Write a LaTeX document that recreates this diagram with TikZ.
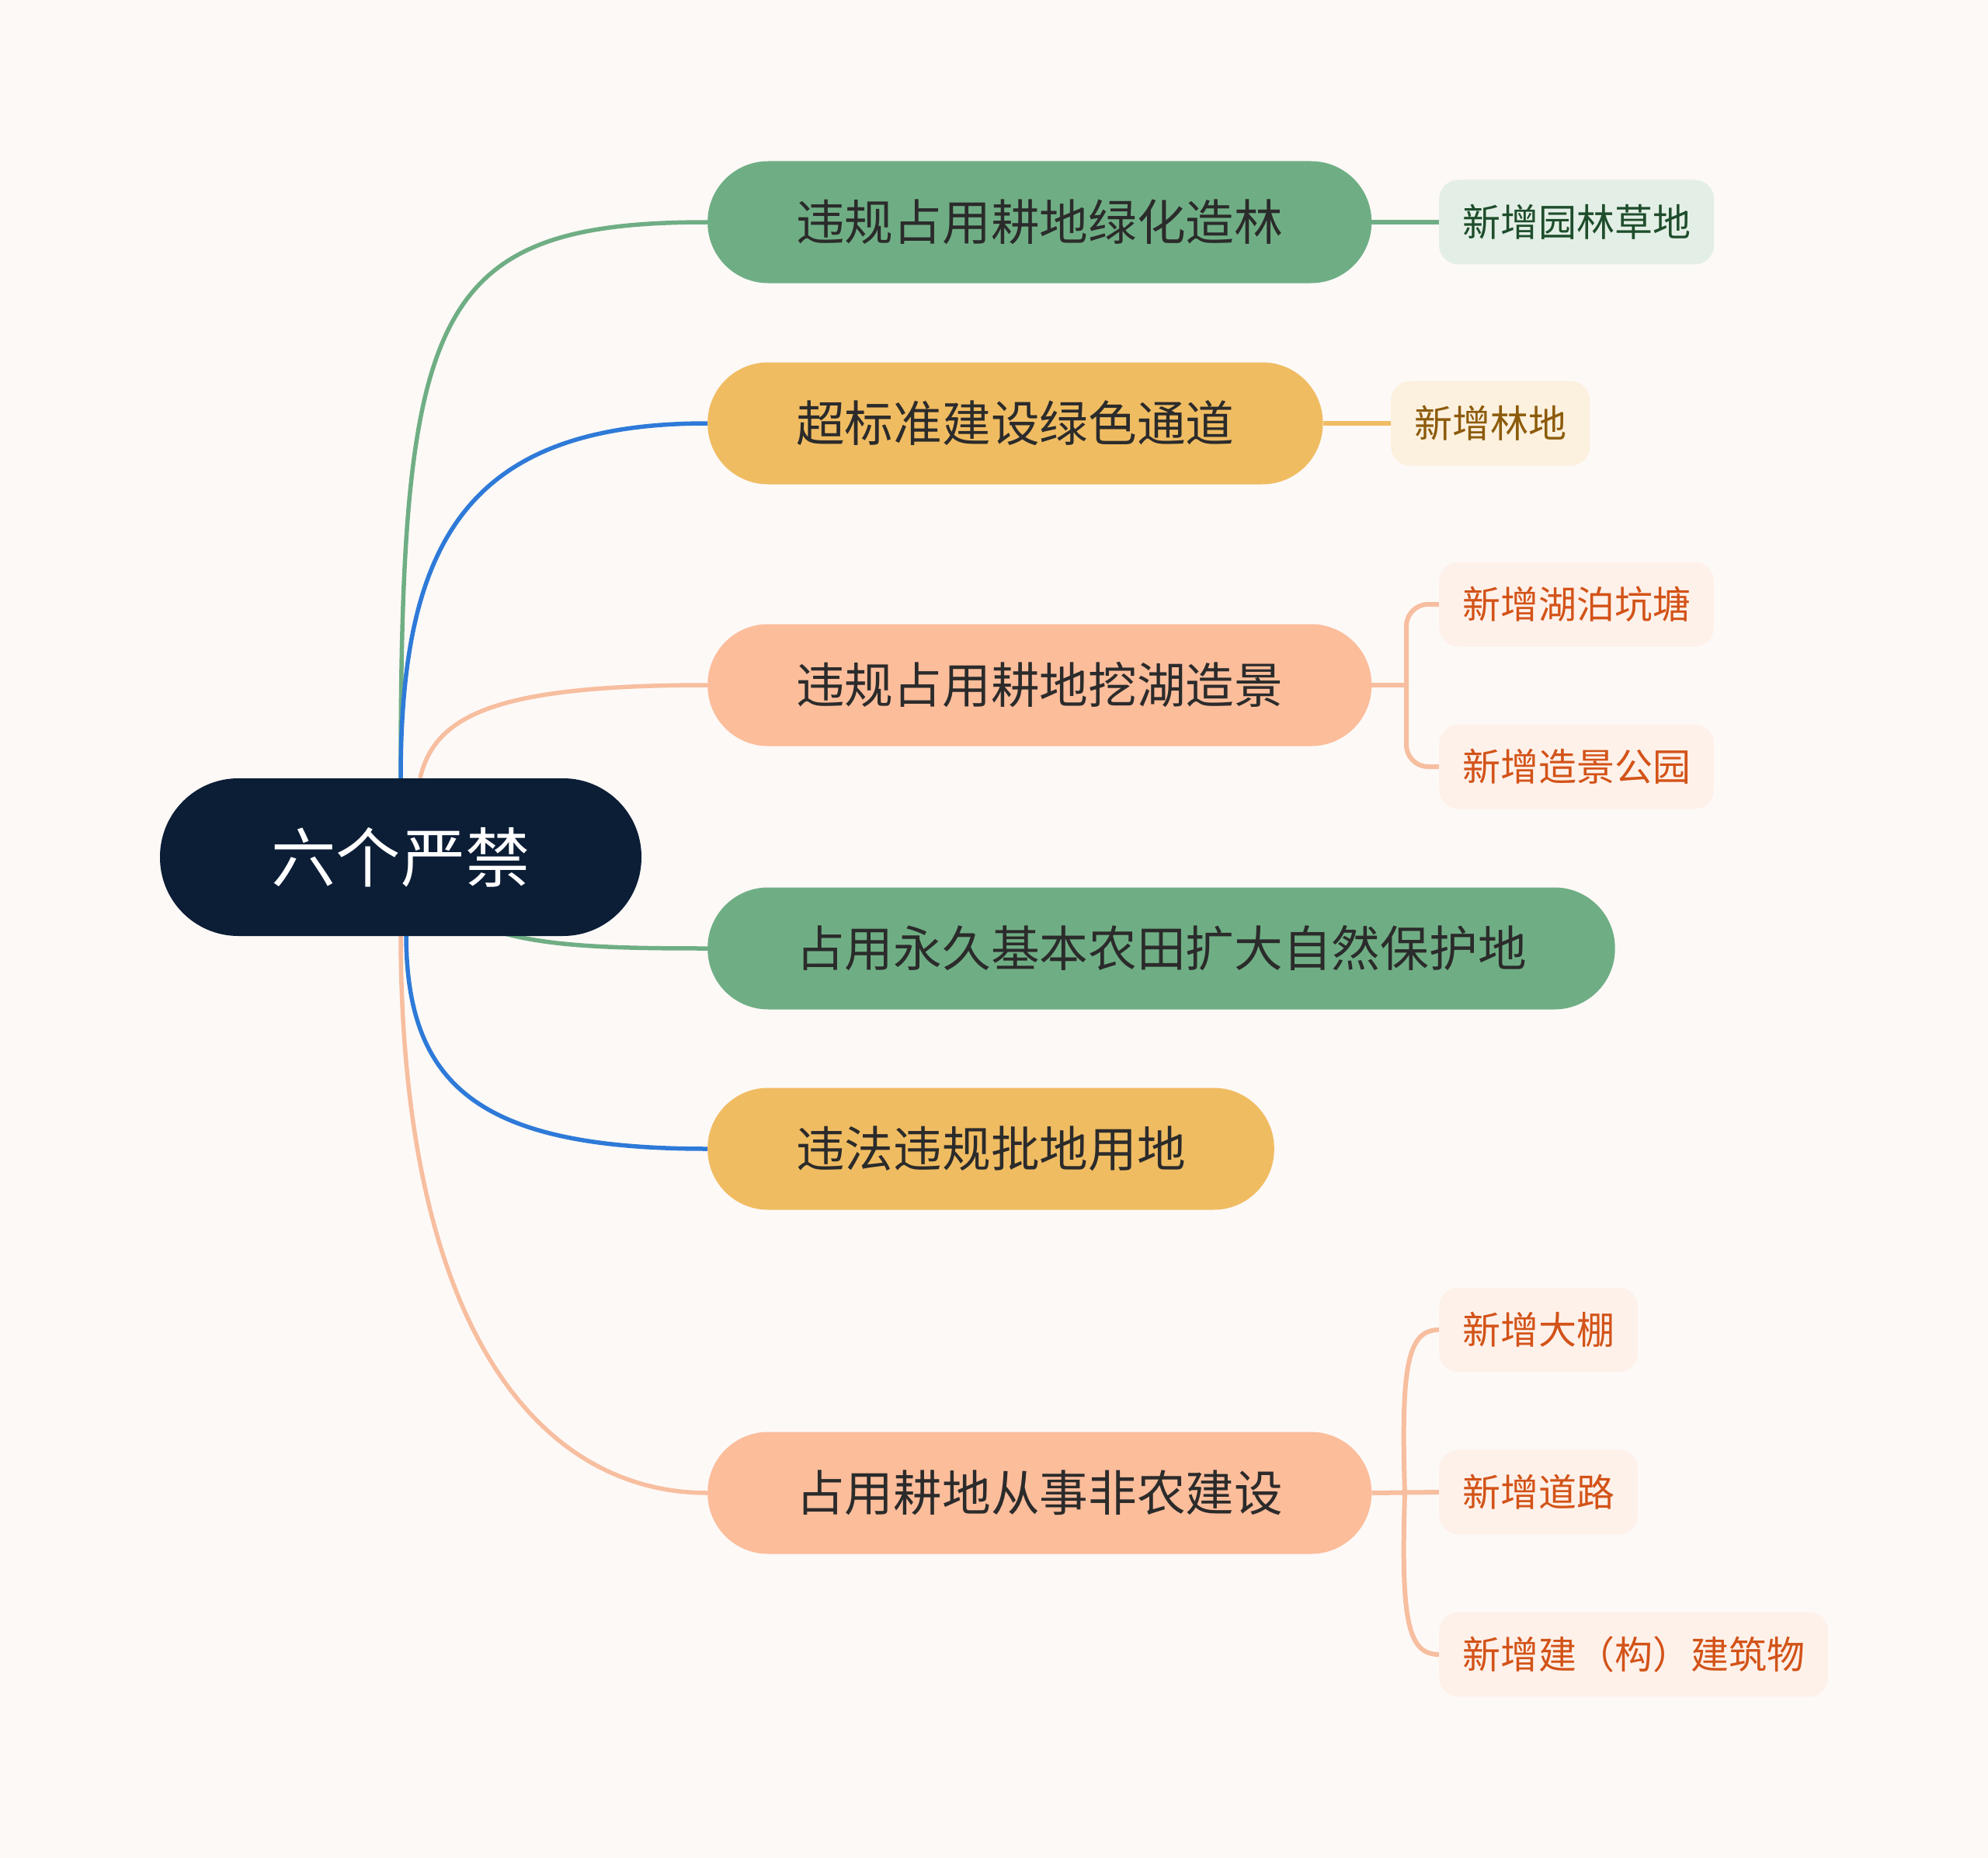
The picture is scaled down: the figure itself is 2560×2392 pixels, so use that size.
\documentclass[tikz,border=0pt]{standalone}
\usepackage{fontspec}
\setmainfont{Noto Sans CJK SC}
\definecolor{bgc}{HTML}{FDF9F7}
\definecolor{rootc}{HTML}{0C1E36}
\definecolor{greenc}{HTML}{6FAE84}
\definecolor{yellowc}{HTML}{F0BC62}
\definecolor{peachc}{HTML}{FCBD9B}
\definecolor{bluec}{HTML}{2E7AD8}
\definecolor{peachline}{HTML}{F7BE9F}
\definecolor{maintext}{HTML}{2B2B2B}
\definecolor{subgreen}{HTML}{E3EFE6}
\definecolor{subgreentext}{HTML}{1E4D2B}
\definecolor{subyellow}{HTML}{FCF0DE}
\definecolor{subyellowtext}{HTML}{8C5B0B}
\definecolor{subpeach}{HTML}{FEF1EA}
\definecolor{subpeachtext}{HTML}{D35318}
\pgfdeclarelayer{bglayer}
\pgfdeclarelayer{background}
\pgfsetlayers{bglayer,background,main}
\tikzset{
  rootbox/.style={fill=rootc, text=white, rounded corners=101pt, minimum width=620pt, minimum height=203pt,
    inner sep=0pt, font=\fontsize{83.3}{90}\selectfont, text height=73pt, text depth=10pt},
  mainbox/.style={anchor=west, rounded corners=78pt, minimum height=157pt, inner xsep=114pt, inner ysep=0pt,
    text=maintext, font=\fontsize{62.7}{70}\selectfont, text height=55pt, text depth=8pt},
  subbox/.style={anchor=west, rounded corners=25pt, minimum height=109pt, inner xsep=30pt, inner ysep=0pt,
    font=\fontsize{49}{56}\selectfont, text height=43pt, text depth=6pt},
  conn/.style={line width=5.5pt},
  subconn/.style={line width=6pt},
}
\begin{document}
\begin{tikzpicture}[x=1pt,y=-1pt]
\begin{pgfonlayer}{bglayer}
\fill[bgc] (0,0) rectangle (2560,2392);
\end{pgfonlayer}
\useasboundingbox (0,0) rectangle (2560,2392);

\node[rootbox] (root) at (516,1103.5) {六个严禁};

\node[mainbox, fill=greenc]  (n1) at (911,286) {违规占用耕地绿化造林};
\node[mainbox, fill=yellowc] (n2) at (911,545) {超标准建设绿色通道};
\node[mainbox, fill=peachc]  (n3) at (911,882) {违规占用耕地挖湖造景};
\node[mainbox, fill=greenc]  (n4) at (911,1221) {占用永久基本农田扩大自然保护地};
\node[mainbox, fill=yellowc] (n5) at (911,1479) {违法违规批地用地};
\node[mainbox, fill=peachc]  (n6) at (911,1922) {占用耕地从事非农建设};

\node[subbox, fill=subgreen, text=subgreentext]   (s1)  at (1853,286) {新增园林草地};
\node[subbox, fill=subyellow, text=subyellowtext] (s2)  at (1791,545) {新增林地};
\node[subbox, fill=subpeach, text=subpeachtext]   (s3a) at (1853,778) {新增湖泊坑塘};
\node[subbox, fill=subpeach, text=subpeachtext]   (s3b) at (1853,987) {新增造景公园};
\node[subbox, fill=subpeach, text=subpeachtext]   (s6a) at (1853,1712) {新增大棚};
\node[subbox, fill=subpeach, text=subpeachtext]   (s6b) at (1853,1921) {新增道路};
\node[subbox, fill=subpeach, text=subpeachtext]   (s6c) at (1853,2130) {新增建（构）建筑物};

\coordinate (j3) at (1811,882);
\coordinate (j6) at (1809,1922);

\begin{pgfonlayer}{background}
% root to main topics
\draw[conn, greenc] (root.north) .. controls (516,400) and (556,286) .. (n1.west);
\draw[conn, bluec] (root.north) .. controls (516,700) and (600,545) .. (n2.west);
\draw[conn, peachline] ([xshift=25pt]root.north) .. controls (560,920) and (640,882) .. (n3.west);
\draw[conn, greenc] (root.center) .. controls (580,1215) and (700,1221) .. (n4.west);
\draw[conn, bluec] ([xshift=7pt]root.south) .. controls (524,1400) and (620,1479) .. (n5.west);
\draw[conn, peachline] (root.south) .. controls (517,1720) and (700,1922) .. (n6.west);
% main topics to subtopics
\draw[subconn, greenc] (n1.east) -- (s1.west);
\draw[subconn, yellowc] (n2.east) -- (s2.west);
\draw[subconn, peachline] (n3.east) -- (j3);
\draw[subconn, peachline, rounded corners=28pt] (j3) |- (s3a.west);
\draw[subconn, peachline, rounded corners=28pt] (j3) |- (s3b.west);
\draw[subconn, peachline] (n6.east) -- (s6b.west);
\draw[subconn, peachline] (j6) .. controls (1804,1760) and (1812,1712) .. (s6a.west);
\draw[subconn, peachline] (j6) .. controls (1804,2084) and (1812,2130) .. (s6c.west);
\end{pgfonlayer}
\end{tikzpicture}
\end{document}
